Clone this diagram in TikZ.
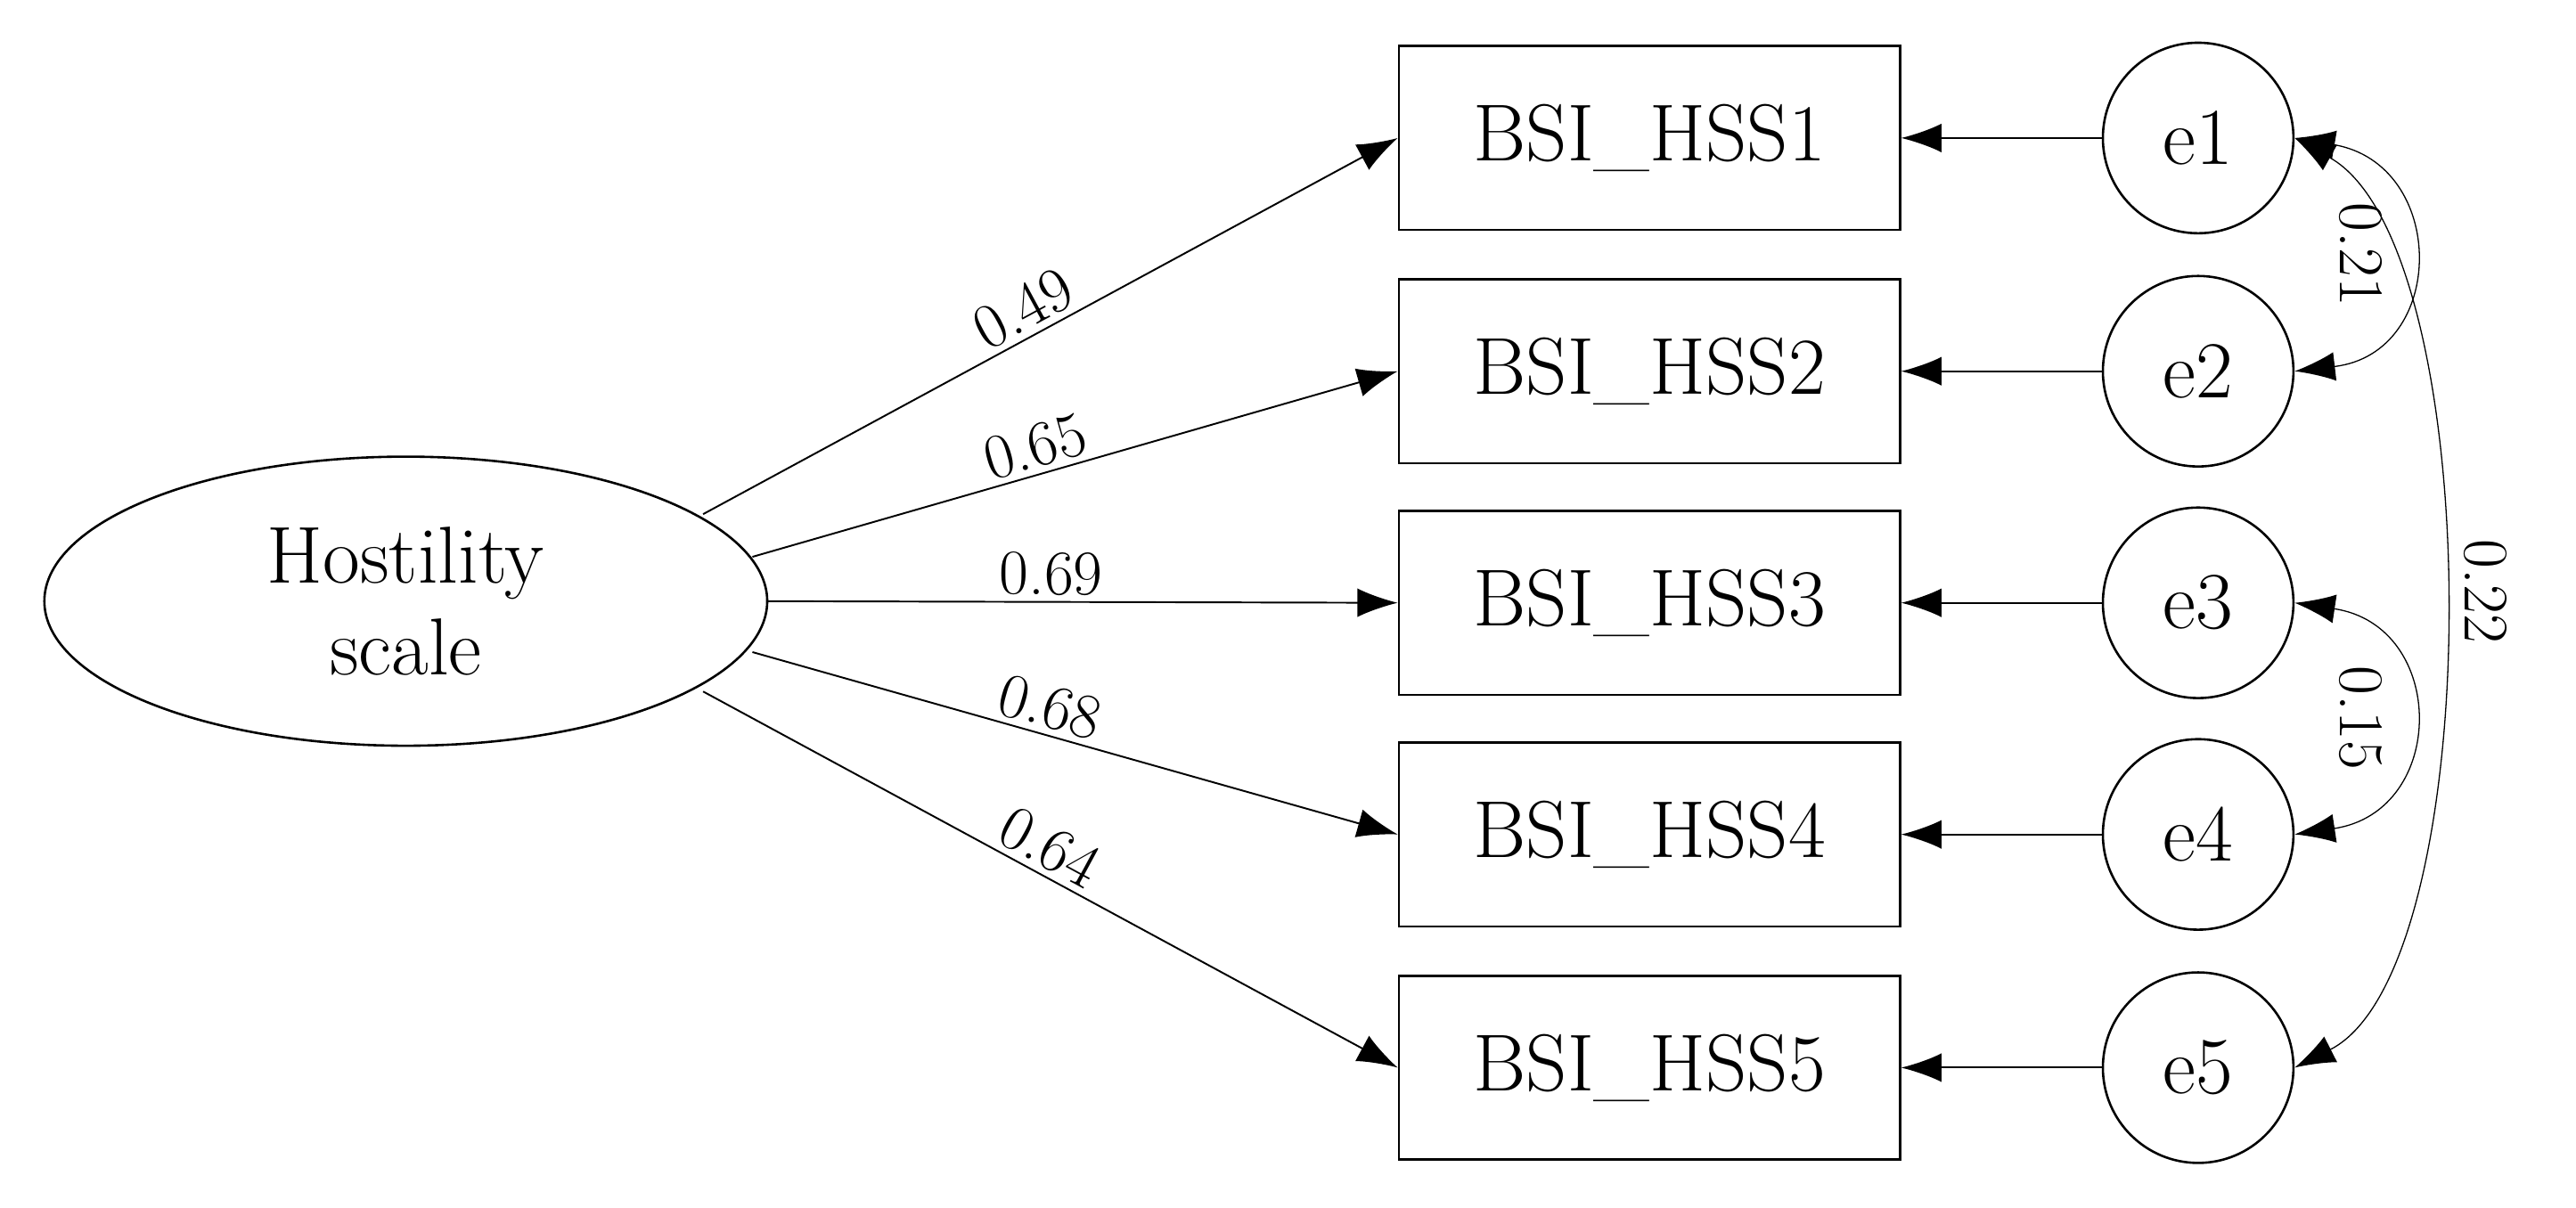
\documentclass[tikz,border=0pt]{standalone}
\usetikzlibrary{shapes.geometric,arrows.meta}
\begin{document}
\begin{tikzpicture}[x=0.02cm,y=-0.02cm,
  box/.style={draw,thick,minimum width=305*0.02cm,minimum height=112*0.02cm,font=\fontsize{28}{32}\selectfont},
  err/.style={draw,thick,circle,minimum size=116*0.02cm,inner sep=0pt,font=\fontsize{28}{32}\selectfont},
  arr/.style={-{Latex[length=14pt,width=10pt]},semithick},
  cov/.style={{Latex[length=14pt,width=10pt]}-{Latex[length=14pt,width=10pt]},thin},
  lab/.style={font=\fontsize{22}{26}\selectfont,sloped,above,inner sep=2pt},
  vlab/.style={font=\fontsize{22}{26}\selectfont,rotate=-90,inner sep=0pt}]
\useasboundingbox (0,0) rectangle (1568,735);
\node[draw,thick,ellipse,minimum width=440*0.02cm,minimum height=176*0.02cm,align=center,font=\fontsize{28}{32}\selectfont] (f) at (247,366) {Hostility\\scale};
\foreach \i/\y in {1/84,2/226,3/367,4/508,5/650}{
  \node[box] (b\i) at (1004,\y) {BSI\_HSS\i};
  \node[err] (e\i) at (1338,\y) {e\i};
  \draw[arr] (e\i) -- (b\i);
}
\coordinate (s1) at (428,313);
\coordinate (s2) at (458,339);
\coordinate (s3) at (467,366);
\coordinate (s4) at (458,397);
\coordinate (s5) at (428,421);
\draw[arr] (s1) -- node[lab,pos=0.48]{0.49} (b1.west);
\draw[arr] (s2) -- node[lab,pos=0.45]{0.65} (b2.west);
\draw[arr] (s3) -- node[lab,pos=0.45]{0.69} (b3.west);
\draw[arr] (s4) -- node[lab,pos=0.45]{0.68} (b4.west);
\draw[arr] (s5) -- node[lab,pos=0.48]{0.64} (b5.west);
\draw[cov] (e1.east) .. controls (1490,100) and (1490,215) .. (e2.east);
\draw[cov] (e3.east) .. controls (1490,381) and (1490,494) .. (e4.east);
\draw[cov] (e1.east) .. controls (1515,150) and (1515,590) .. (e5.east);
\node[vlab] (l21) at (1437,155) {0.21};
\node[vlab] (l15) at (1437,437) {0.15};
\node[vlab] (l22) at (1513,360) {0.22};
\end{tikzpicture}
\end{document}
